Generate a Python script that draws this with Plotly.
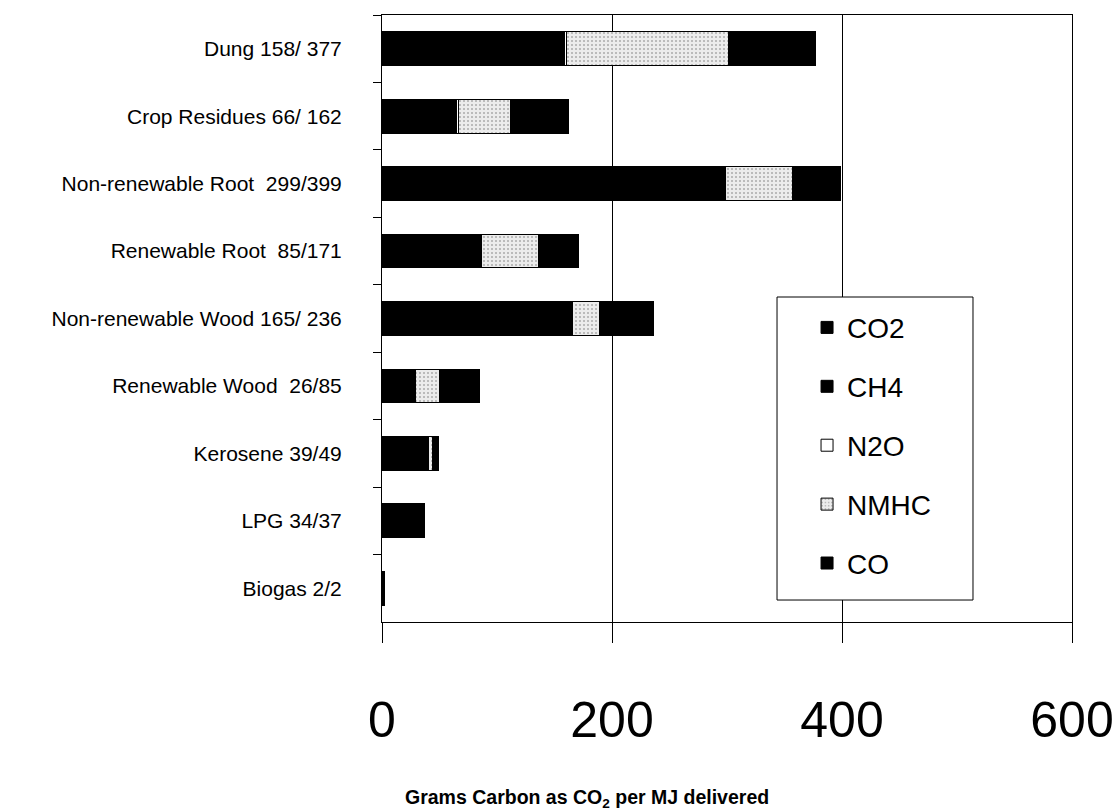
import plotly.graph_objects as go

categories = ["Dung 158/ 377", "Crop Residues 66/ 162", "Non-renewable Root  299/399",
              "Renewable Root  85/171", "Non-renewable Wood 165/ 236", "Renewable Wood  26/85",
              "Kerosene 39/49", "LPG 34/37", "Biogas 2/2"]
co2 = [158, 64, 297, 85, 164, 26, 39, 34, 2]
ch4 = [1, 1, 1, 1, 1, 2, 0.5, 0.3, 0]
n2o = [1, 1.5, 1, 0.5, 0.5, 1, 0.5, 0.2, 0]
nmhc = [141, 45, 58, 50, 23.5, 21, 4, 0.5, 0]
co = [76, 50.5, 42, 34.5, 47, 35, 5, 2, 0]
x_ticks = [0, 200, 400, 600]

SANS = "Liberation Sans, Arial, sans-serif"

fig = go.Figure()
series = [
    ("CO2", co2, dict(color="black", line=dict(color="black", width=1))),
    ("CH4", ch4, dict(color="black", line=dict(color="black", width=1))),
    ("N2O", n2o, dict(color="white", line=dict(color="black", width=1))),
    ("NMHC", nmhc, dict(color="#e4e4e4", line=dict(color="black", width=1),
                         pattern=dict(shape=".", fgcolor="#6a6a6a", bgcolor="#ececec",
                                      size=4, solidity=0.2, fillmode="overlay"))),
    ("CO", co, dict(color="black", line=dict(color="black", width=1))),
]
for i, (name, vals, mk) in enumerate(series):
    fig.add_trace(go.Bar(y=categories, x=vals, name=name, orientation="h",
                         marker=mk, legendgroup=f"g{i}"))

fig.update_layout(
    width=1118, height=812,
    barmode="stack", bargap=0.5,
    plot_bgcolor="white", paper_bgcolor="white",
    margin=dict(l=382, r=46, t=15, b=190, autoexpand=False),
    font=dict(family=SANS, color="black"),
    showlegend=True,
    legend=dict(x=0.616, y=0.526, xanchor="left", yanchor="top",
                bgcolor="rgba(0,0,0,0)", borderwidth=0,
                traceorder="grouped", tracegroupgap=19.5,
                font=dict(family=SANS, size=28, color="black")),
    xaxis=dict(range=[0, 600], tickvals=x_ticks, ticktext=[str(v) for v in x_ticks],
               showgrid=True, gridcolor="black", gridwidth=1,
               showline=True, linecolor="black", linewidth=1, mirror=True,
               ticks="outside", ticklen=20, tickcolor="black",
               tickfont=dict(family=SANS, size=50, color="black"),
               ticklabelstandoff=34, ticklabeloverflow="allow", automargin=False,
               zeroline=False, fixedrange=True),
    yaxis=dict(categoryorder="array", categoryarray=categories, autorange="reversed",
               showline=True, linecolor="black", linewidth=1, mirror=True,
               ticks="outside", ticklen=8, tickcolor="black", tickson="boundaries",
               tickfont=dict(family=SANS, size=21, color="black"),
               ticklabelstandoff=35, showgrid=False, automargin=False),
    shapes=[dict(type="rect", xref="paper", yref="paper",
                 x0=0.5725, x1=0.8565, y0=0.0362, y1=0.5354,
                 line=dict(color="black", width=1), fillcolor="white", layer="above")],
    annotations=[dict(text="<b>Grams Carbon as CO<sub>2</sub> per MJ delivered</b>",
                      xref="paper", yref="paper", x=(587 - 382) / 690, y=(622 - 798) / 607,
                      xanchor="center", yanchor="middle", showarrow=False,
                      font=dict(family=SANS, size=19.5, color="black"))],
)

fig.write_html("out.html")
